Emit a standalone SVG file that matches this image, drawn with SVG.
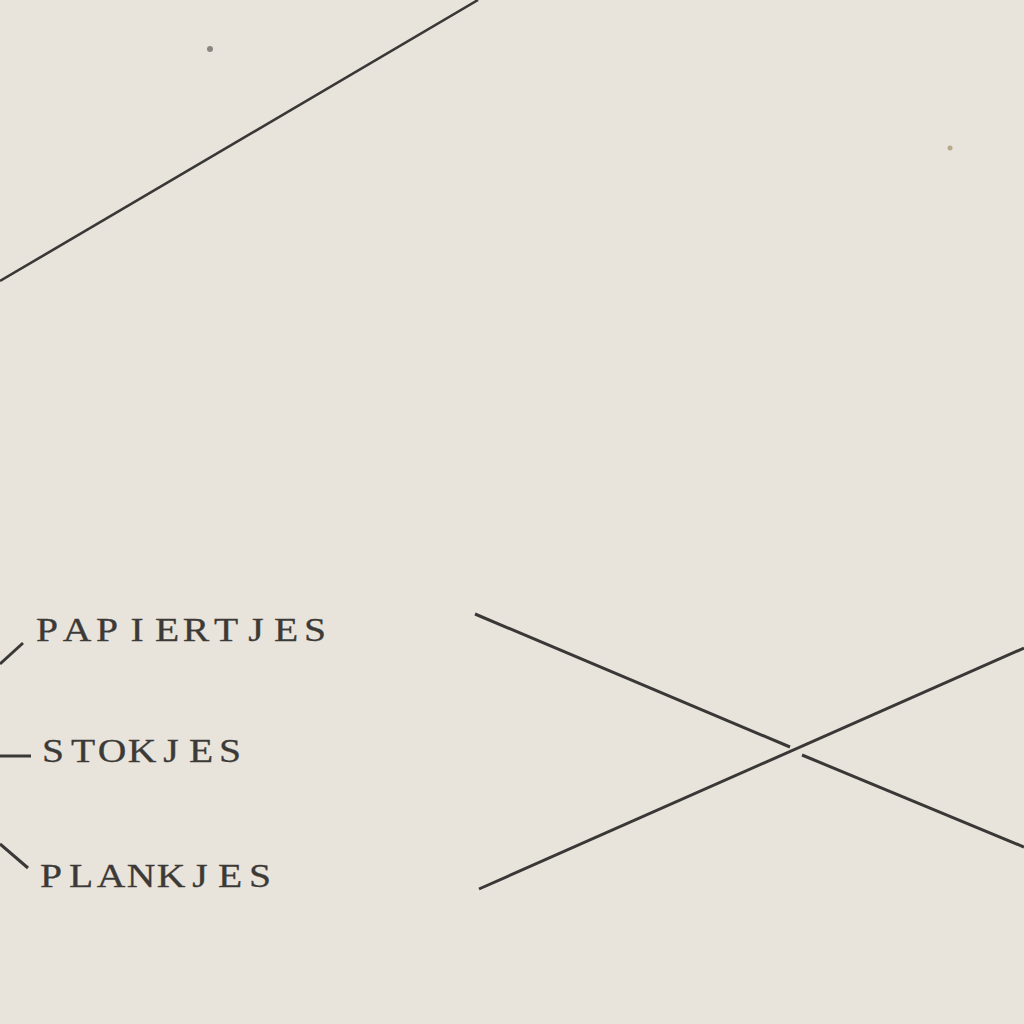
<svg xmlns="http://www.w3.org/2000/svg" width="1024" height="1024" viewBox="0 0 1024 1024">
<style>
.ln{stroke:#3a3836;stroke-width:3;stroke-linecap:butt;fill:none}
.lbl{font-family:"Liberation Serif","DejaVu Serif",serif;font-size:33px;fill:#3c3a37;stroke:#3c3a37;stroke-width:0.3;text-anchor:middle}
</style>
<rect width="1024" height="1024" fill="#e9e4db"/>
<circle cx="210" cy="49" r="3" fill="#8a8782"/>
<circle cx="950" cy="148" r="2.5" fill="#b8a98e"/>
<g id="connectors">
<line class="ln" x1="0" y1="281" x2="478" y2="0" style="stroke-width:2.6"/>
<line class="ln" x1="0" y1="664" x2="23" y2="643"/>
<line class="ln" x1="0" y1="756" x2="31" y2="756"/>
<line class="ln" x1="0" y1="844" x2="28" y2="868"/>
<line class="ln" x1="475" y1="614" x2="790" y2="747"/>
<line class="ln" x1="802" y1="755" x2="1024" y2="847"/>
<line class="ln" x1="479" y1="889" x2="1024" y2="648"/>
</g>
<g transform="scale(1.2,1)">
<g id="node-papiertjes"><text class="lbl" x="39.17 64.17 89.17 114.17 139.17 163.33 188.33 213.33 238.33 262.5" y="641">PAPIERTJES</text></g>
<g id="node-stokjes"><text class="lbl" x="44.17 69.17 93.33 118.33 142.5 167.5 191.67" y="762">STOKJES</text></g>
<g id="node-plankjes"><text class="lbl" x="42.5 67.5 92.5 117.5 142.5 166.67 191.67 216.67" y="887">PLANKJES</text></g>
</g>
</svg>
